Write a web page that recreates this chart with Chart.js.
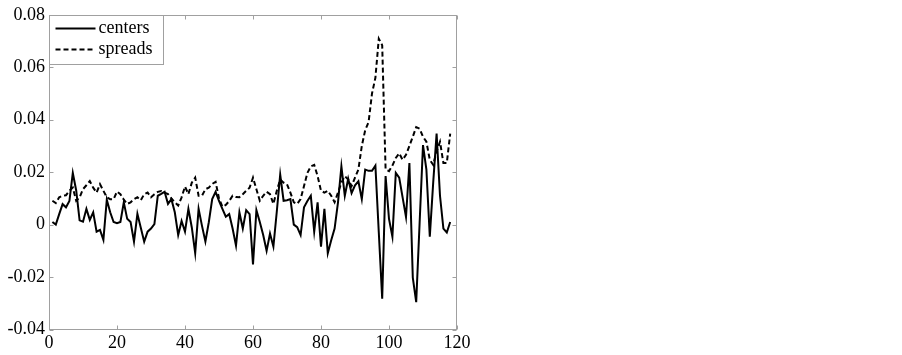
<!DOCTYPE html>
<html><head><meta charset="utf-8">
<script src="https://cdn.jsdelivr.net/npm/chart.js@4"></script>
<style>html,body{margin:0;padding:0;background:#fff;}#wrap{width:902px;height:355px;position:relative;}</style>
</head><body><div id="wrap"><canvas id="c" width="902" height="355"></canvas></div>
<script>
const xValues = [1,2,3,4,5,6,7,8,9,10,11,12,13,14,15,16,17,18,19,20,21,22,23,24,25,26,27,28,29,30,
31,32,33,34,35,36,37,38,39,40,41,42,43,44,45,46,47,48,49,50,51,52,53,54,55,56,57,58,59,60,
61,62,63,64,65,66,67,68,69,70,71,72,73,74,75,76,77,78,79,80,81,82,83,84,85,86,87,88,89,90,
91,92,93,94,95,96,97,98,99,100,101,102,103,104,105,106,107,108,109,110,111,112,113,114,115,116,117,118];

const centers = [0.001, 0.0, 0.004, 0.0078, 0.0066, 0.009, 0.0197, 0.013, 0.0016, 0.0011,
 0.006, 0.0018, 0.0047, -0.0027, -0.002, -0.0058, 0.0095, 0.0047, 0.001, 0.0005,
 0.001, 0.0085, 0.0022, 0.001, -0.0065, 0.0041, -0.0012, -0.0065, -0.0027, -0.0015,
 0.0002, 0.011, 0.0117, 0.0125, 0.0079, 0.0097, 0.0047, -0.004, 0.0014, -0.0027,
 0.006, -0.0011, -0.0109, 0.006, -0.0005, -0.0065, 0.0009, 0.0097, 0.0125, 0.009,
 0.006, 0.003, 0.004, -0.0015, -0.008, 0.0047, -0.0015, 0.0055, 0.004, -0.0152,
 0.0055, 0.001, -0.004, -0.010, -0.0034, -0.0084, 0.005, 0.0191, 0.0091, 0.0093,
 0.0097, 0.0, -0.001, -0.004, 0.0066, 0.009, 0.011, -0.0027, 0.0085, -0.0084,
 0.006, -0.0109, -0.006, -0.0015, 0.0085, 0.0222, 0.011, 0.0175, 0.012, 0.015,
 0.0165, 0.0097, 0.021, 0.0205, 0.0205, 0.0225, -0.003, -0.0283, 0.0185, 0.0022,
 -0.0046, 0.0197, 0.0179, 0.0104, 0.0029, 0.0235, -0.0202, -0.0296, 0.0005, 0.0303,
 0.021, -0.0046, 0.016, 0.0347, 0.011, -0.0015, -0.003, 0.001];

const spreads = [0.0091, 0.0082, 0.0104, 0.011, 0.0112, 0.0129, 0.0141, 0.0091, 0.0104, 0.0135,
 0.015, 0.0166, 0.0141, 0.0122, 0.0154, 0.0129, 0.0104, 0.0097, 0.0097, 0.0126,
 0.0116, 0.0095, 0.0079, 0.0085, 0.0097, 0.0104, 0.0093, 0.0116, 0.0122, 0.0104,
 0.0116, 0.0125, 0.0128, 0.0122, 0.0116, 0.01, 0.0085, 0.0073, 0.0104, 0.0145,
 0.0116, 0.016, 0.0179, 0.011, 0.011, 0.0135, 0.0141, 0.0155, 0.0163, 0.01,
 0.0068, 0.0075, 0.009, 0.011, 0.0105, 0.0104, 0.0116, 0.0129, 0.0141, 0.0179,
 0.0135, 0.0091, 0.011, 0.0125, 0.0116, 0.0079, 0.0129, 0.0172, 0.016, 0.0154,
 0.0122, 0.0085, 0.0079, 0.0097, 0.0147, 0.0197, 0.0222, 0.0228, 0.0185, 0.0129,
 0.0122, 0.0129, 0.011, 0.0085, 0.0122, 0.016, 0.0185, 0.0172, 0.0147, 0.0179,
 0.021, 0.03, 0.036, 0.0391, 0.05, 0.056, 0.0709, 0.0684, 0.021, 0.0204,
 0.0225, 0.0254, 0.0272, 0.0247, 0.0266, 0.03, 0.0335, 0.0372, 0.0366, 0.0335,
 0.0316, 0.0247, 0.0228, 0.0279, 0.0316, 0.0235, 0.0235, 0.0347];

const seriesNames = ['centers', 'spreads'];
const xTicks = [0, 20, 40, 60, 80, 100, 120];
const yTicks = [-0.04, -0.02, 0, 0.02, 0.04, 0.06, 0.08];

const AXIS_COLOR = '#a0a0a0';
const FONT = '"Liberation Serif", "Times New Roman", serif';

const framePlugin = {
  id: 'frame',
  beforeDatasetsDraw(chart) {
    const {ctx, chartArea: a, scales: {x, y}} = chart;
    ctx.save();
    ctx.strokeStyle = AXIS_COLOR;
    ctx.lineWidth = 1;
    const L = Math.round(a.left) + 0.5, R = Math.round(a.right) - 0.5;
    const T = Math.round(a.top) + 0.5, B = Math.round(a.bottom) - 0.5;
    ctx.strokeRect(L, T, R - L, B - T);
    ctx.beginPath();
    xTicks.forEach(v => {
      const px = Math.round(x.getPixelForValue(v)) + 0.5;
      ctx.moveTo(px, B); ctx.lineTo(px, B - 4);
      ctx.moveTo(px, T); ctx.lineTo(px, T + 4);
    });
    yTicks.forEach(v => {
      const py = Math.round(y.getPixelForValue(v)) + 0.5;
      ctx.moveTo(L, py); ctx.lineTo(L + 4, py);
      ctx.moveTo(R, py); ctx.lineTo(R - 4, py);
    });
    ctx.stroke();
    ctx.restore();
  },
  afterDatasetsDraw(chart) {
    const {ctx, chartArea: a} = chart;
    ctx.save();
    const lx = Math.round(a.left) + 0.5, ly = Math.round(a.top) + 0.5;
    const w = 114, h = 49;
    ctx.fillStyle = '#fff';
    ctx.fillRect(lx, ly, w, h);
    ctx.strokeStyle = AXIS_COLOR;
    ctx.lineWidth = 1;
    ctx.strokeRect(lx, ly, w, h);
    chart.data.datasets.forEach((ds, i) => {
      const yy = ly + 13 + i * 21;
      ctx.strokeStyle = '#000';
      ctx.lineWidth = 2;
      ctx.setLineDash(ds.borderDash || []);
      ctx.beginPath();
      ctx.moveTo(lx + 6, yy); ctx.lineTo(lx + 46, yy);
      ctx.stroke();
      ctx.setLineDash([]);
      ctx.fillStyle = '#000';
      ctx.font = '18px ' + FONT;
      ctx.textBaseline = 'middle';
      ctx.textAlign = 'left';
      ctx.fillText(ds.label, lx + 49, yy);
    });
    ctx.restore();
  }
};

const toPts = arr => arr.map((v, i) => ({x: xValues[i], y: v}));

new Chart(document.getElementById('c'), {
  type: 'line',
  data: {
    datasets: [
      {label: seriesNames[0], data: toPts(centers), borderColor: '#000', borderWidth: 2, pointRadius: 0, tension: 0, fill: false},
      {label: seriesNames[1], data: toPts(spreads), borderColor: '#000', borderWidth: 2, borderDash: [5, 3], pointRadius: 0, tension: 0, fill: false}
    ]
  },
  options: {
    responsive: false,
    animation: false,
    events: [],
    layout: {padding: {left: 0, right: 445, top: 9, bottom: 0}},
    plugins: {legend: {display: false}, tooltip: {enabled: false}},
    scales: {
      x: {
        type: 'linear', min: 0, max: 120,
        afterBuildTicks: s => { s.ticks = xTicks.map(v => ({value: v})); },
        afterFit: s => { s.height = 25.5; },
        grid: {display: false, drawTicks: false},
        border: {display: false},
        ticks: {color: '#000', font: {family: FONT, size: 18}, padding: 3, maxRotation: 0,
          callback: v => String(v)}
      },
      y: {
        type: 'linear', min: -0.04, max: 0.08,
        afterBuildTicks: s => { s.ticks = yTicks.map(v => ({value: v})); },
        afterFit: s => { s.width = 49; },
        grid: {display: false, drawTicks: false},
        border: {display: false},
        ticks: {color: '#000', font: {family: FONT, size: 18}, padding: 4,
          callback: v => (Math.abs(v) < 1e-9 ? '0' : Number(v).toFixed(2))}
      }
    }
  },
  plugins: [framePlugin]
});
</script></body></html>
